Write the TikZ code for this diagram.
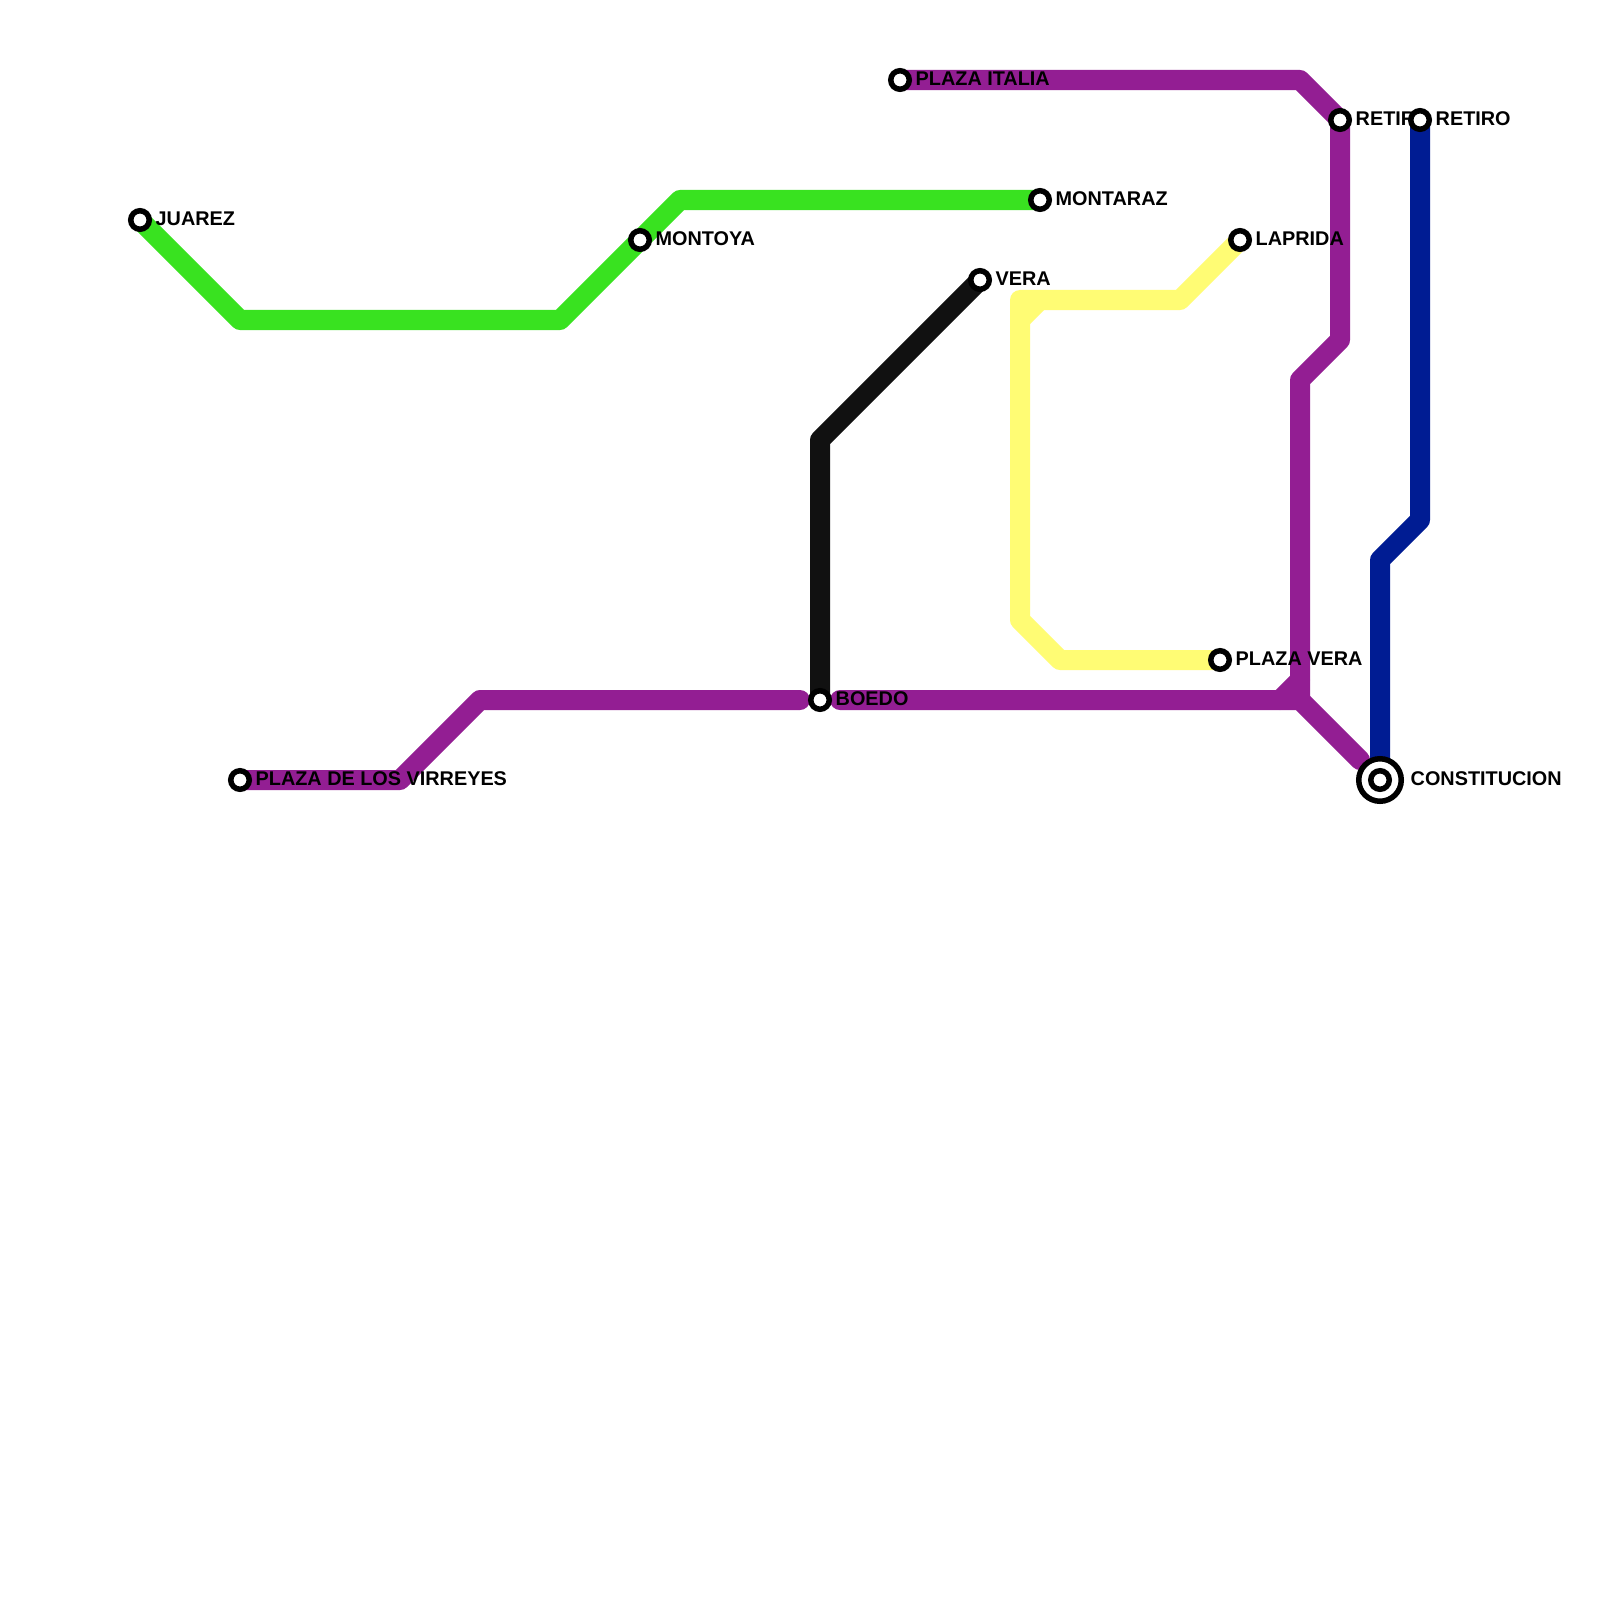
\documentclass[tikz,border=0pt]{standalone}
\usepackage{fontspec}
\setmainfont{Liberation Sans}
\usetikzlibrary{backgrounds}
\definecolor{lgreen}{HTML}{39E220}
\definecolor{lpurple}{HTML}{931E93}
\definecolor{lblue}{HTML}{001C93}
\definecolor{lblack}{HTML}{111111}
\definecolor{lyellow}{HTML}{FFFC74}
\tikzset{x=0.01cm,y=-0.01cm,
 metro/.style={line width=0.2cm,line join=round,line cap=round},
 stn/.style={circle,draw=black,fill=white,line width=0.055cm,minimum size=0.185cm,inner sep=0pt,outer sep=0pt},
 term/.style={circle,draw=black,fill=white,line width=0.055cm,minimum size=0.425cm,inner sep=0pt,outer sep=0pt},
 lab/.style={anchor=west,font=\bfseries\fontsize{5.64pt}{6.5pt}\selectfont,text=black,inner sep=0pt}}
\begin{document}
\begin{tikzpicture}
\useasboundingbox (0,0) rectangle (1600,1600);
\coordinate (a1) at (240,320); \coordinate (a2) at (560,320); \coordinate (a3) at (680,200);
\coordinate (b1) at (1020,320);\coordinate (b2) at (1180,300);\coordinate (b3) at (1020,300);\coordinate (b4) at (1040,300);
\coordinate (b5) at (1020,620);\coordinate (b6) at (1060,660);
\coordinate (c1) at (820,440);
\coordinate (d1) at (400,780);\coordinate (d2) at (480,700);\coordinate (d3) at (800,700);\coordinate (d4) at (840,700);\coordinate (d5) at (1300,700);\coordinate (d6) at (1360,760);
\coordinate (e1) at (1280,700);\coordinate (e2) at (1300,680);\coordinate (e3) at (1300,380);\coordinate (e4) at (1340,340);\coordinate (e5) at (1340,120);\coordinate (e6) at (1300,80);
\coordinate (f1) at (1380,560);\coordinate (f2) at (1420,520);
\node[stn] (juarez) at (140,220) {};
\node[stn] (montoya) at (640,240) {};
\node[stn] (montaraz) at (1040,200) {};
\node[stn] (vera) at (980,280) {};
\node[stn] (boedo) at (820,700) {};
\node[stn] (virreyes) at (240,780) {};
\node[stn] (italia) at (900,80) {};
\node[stn] (retiroa) at (1340,120) {};
\node[stn] (retirob) at (1420,120) {};
\node[stn] (laprida) at (1240,240) {};
\node[stn] (pvera) at (1220,660) {};
\node[term] (cons) at (1380,780) {};
\node[stn] (consi) at (1380,780) {};
\begin{scope}[on background layer]
\fill[white] (0,0) rectangle (1600,1600);
\draw[metro,lgreen] (juarez.center) -- (a1) -- (a2) -- (a3) -- (montaraz.center);
\draw[metro,lyellow] (laprida.center) -- (b2) -- (b3) -- (b5) -- (b6) -- (pvera.center);
\draw[metro,lyellow] (b1) -- (b4);
\draw[metro,lblack] (vera.center) -- (c1) -- (boedo.center);
\draw[metro,lpurple] (virreyes.center) -- (d1) -- (d2) -- (d3);
\draw[metro,lpurple] (d4) -- (d5) -- (d6);
\draw[metro,lpurple] (e1) -- (e2) -- (d5);
\draw[metro,lpurple] (e2) -- (e3) -- (e4) -- (e5) -- (e6) -- (italia.center);
\draw[metro,lblue] (cons.center) -- (f1) -- (f2) -- (retirob.center);
\node[lab] (tjuarez) at (155,218.5) {JUAREZ};
\node[lab] (tmontoya) at (655,238.5) {MONTOYA};
\node[lab] (tmontaraz) at (1055,198.5) {MONTARAZ};
\node[lab] (tvera) at (995,278.5) {VERA};
\node[lab] (tboedo) at (835,698.5) {BOEDO};
\node[lab] (tvirreyes) at (255,778.5) {PLAZA DE LOS VIRREYES};
\node[lab] (titalia) at (915,78.5) {PLAZA ITALIA};
\node[lab] (tretiroa) at (1355,118.5) {RETIRO};
\node[lab] (tretirob) at (1435,118.5) {RETIRO};
\node[lab] (tlaprida) at (1255,238.5) {LAPRIDA};
\node[lab] (tpvera) at (1235,658.5) {PLAZA VERA};
\node[lab] (tcons) at (1410,778.5) {CONSTITUCION};
\end{scope}
\end{tikzpicture}
\end{document}
